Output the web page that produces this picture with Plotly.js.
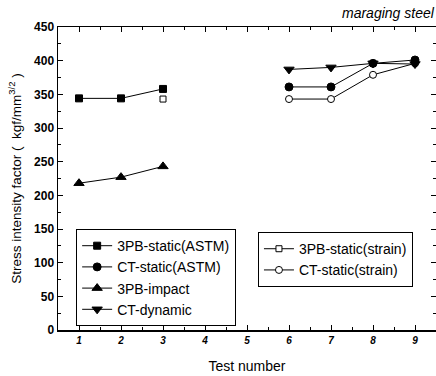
<!DOCTYPE html>
<html>
<head>
<meta charset="utf-8">
<script src="https://cdn.plot.ly/plotly-3.0.1.min.js"></script>
<style>html,body{margin:0;padding:0;background:#fff;}#chart{width:436px;height:376px;}</style>
</head>
<body>
<div id="chart"></div>
<script>
const x3PBStatic = [1, 2, 3];
const y3PBStatic = [344, 344, 358];
const xCTStatic = [6, 7, 8, 9];
const yCTStatic = [361, 361, 396, 401];
const x3PBImpact = [1, 2, 3];
const y3PBImpact = [218, 227, 243];
const xCTDynamic = [6, 7, 8, 9];
const yCTDynamic = [387, 390, 396, 395];
const x3PBStrain = [3];
const y3PBStrain = [343];
const xCTStrain = [6, 7, 8, 9];
const yCTStrain = [343, 343, 379, 396];
const xTicks = [1, 2, 3, 4, 5, 6, 7, 8, 9];
const yTicks = [0, 50, 100, 150, 200, 250, 300, 350, 400, 450];

const line = {color: '#000', width: 1};
function tr(x, y, name, symbol, fill, leg, size) {
  return {x: x, y: y, name: name, type: 'scatter', mode: 'lines+markers',
    line: line, legend: leg,
    marker: {symbol: symbol, size: size, color: fill, line: {color: '#000', width: 1}}};
}
const data = [
  tr(xCTStrain, yCTStrain, 'CT-static(strain)', 'circle', '#fff', 'legend2', 7),
  tr(x3PBStrain, y3PBStrain, '3PB-static(strain)', 'square', '#fff', 'legend2', 6),
  tr(x3PBStatic, y3PBStatic, '3PB-static(ASTM)', 'square', '#000', 'legend', 7),
  tr(xCTStatic, yCTStatic, 'CT-static(ASTM)', 'circle', '#000', 'legend', 8),
  tr(x3PBImpact, y3PBImpact, '3PB-impact', 'triangle-up', '#000', 'legend', 9),
  tr(xCTDynamic, yCTDynamic, 'CT-dynamic', 'triangle-down', '#000', 'legend', 9)
];
const ff = 'Liberation Sans, Arial, sans-serif';
const layout = {
  width: 436, height: 376,
  margin: {l: 58, r: 0, t: 27, b: 46},
  paper_bgcolor: '#fff', plot_bgcolor: '#fff',
  font: {family: ff, color: '#000'},
  showlegend: true,
  xaxis: {
    range: [0.5, 9.5], tickvals: xTicks, ticktext: xTicks.map(String),
    showgrid: false, zeroline: false, showline: true, linecolor: '#000', linewidth: 1.5,
    mirror: 'allticks', ticks: 'inside', ticklen: 5, tickcolor: '#000', tickwidth: 1,
    minor: {dtick: 0.5, tick0: 0.5, ticks: 'inside', ticklen: 3, tickcolor: '#000', showgrid: false},
    tickfont: {size: 10, style: 'italic', weight: 'bold'},
    title: {text: 'Test number', font: {size: 14}, standoff: 16}
  },
  yaxis: {
    range: [0, 450], tickvals: yTicks, ticktext: yTicks.map(String),
    showgrid: false, zeroline: false, showline: true, linecolor: '#000', linewidth: 1.5,
    mirror: 'allticks', ticks: 'inside', ticklen: 5, tickcolor: '#000', tickwidth: 1,
    minor: {dtick: 25, ticks: 'inside', ticklen: 3, tickcolor: '#000', showgrid: false},
    tickfont: {size: 12, weight: 'bold'},
    title: {text: 'Stress intensity factor (  kgf/mm<sup>3/2</sup> )', font: {size: 13.5}, standoff: 9}
  },
  legend: {x: 0.048, y: 0.333, xanchor: 'left', yanchor: 'top',
    bordercolor: '#000', borderwidth: 1, bgcolor: '#fff', traceorder: 'normal',
    font: {size: 14}, tracegroupgap: 0},
  legend2: {x: 0.529, y: 0.323, xanchor: 'left', yanchor: 'top',
    bordercolor: '#000', borderwidth: 1, bgcolor: '#fff', traceorder: 'reversed',
    font: {size: 14}, tracegroupgap: 0},
  annotations: [{text: 'maraging steel', xref: 'paper', yref: 'paper', x: 0.747, y: 1.046,
    xanchor: 'left', yanchor: 'middle', showarrow: false,
    font: {size: 14, style: 'italic'}}]
};
Plotly.newPlot('chart', data, layout, {displayModeBar: false, staticPlot: true});
</script>
</body>
</html>
